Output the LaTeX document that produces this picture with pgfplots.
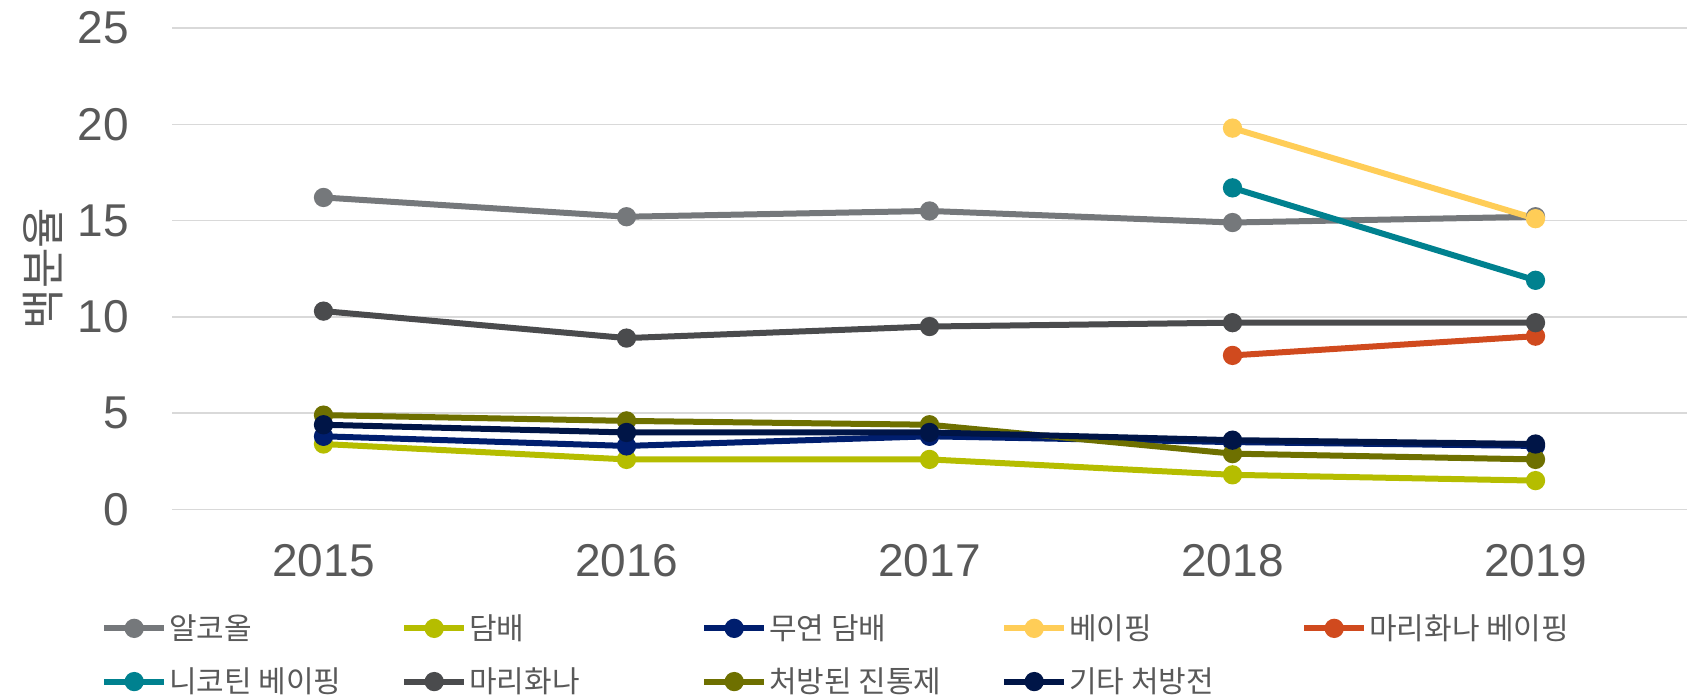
\documentclass[border=0pt]{standalone}
\usepackage{fontspec}
\setmainfont{Liberation Sans}
\newfontfamily\kr{Noto Sans CJK KR}
\usepackage{pgfplots}
\pgfplotsset{compat=1.18}
\definecolor{txt}{HTML}{595959}
\definecolor{gridc}{HTML}{D9D9D9}
\definecolor{cAlc}{HTML}{75787B}
\definecolor{cTob}{HTML}{B5BD00}
\definecolor{cSmk}{HTML}{001E6E}
\definecolor{cVap}{HTML}{FFCD57}
\definecolor{cMjv}{HTML}{D04A1E}
\definecolor{cNic}{HTML}{00818F}
\definecolor{cMj}{HTML}{4A4B4D}
\definecolor{cPain}{HTML}{6E7000}
\definecolor{cRx}{HTML}{001547}
\begin{document}
\begin{tikzpicture}
\useasboundingbox (0,0) rectangle (844.5pt,349.5pt);
\begin{axis}[
  at={(86pt,94.75pt)}, anchor=south west,
  scale only axis, width=757.5pt, height=240.75pt,
  xmin=2014.5, xmax=2019.5, ymin=0, ymax=25,
  xtick={2015,2016,2017,2018,2019}, ytick={0,5,10,15,20,25},
  xticklabels={2015,2016,2017,2018,2019},
  ymajorgrids, grid style={color=gridc, line width=0.75pt},
  axis line style={draw=none}, tick style={draw=none},
  ticklabel style={font=\fontsize{23}{27}\selectfont, text=txt},
  /pgf/number format/assume math mode=true,
  yticklabel style={anchor=east, inner sep=0pt, xshift=-21.5pt},
  xticklabel style={anchor=north, inner sep=0pt, yshift=-17pt},
  ylabel={백분율},
  ylabel style={at={(axis description cs:-0.0848,0.5)}, anchor=center, font=\kr\fontsize{22}{26}\selectfont, text=txt},
  every axis plot/.append style={line width=3pt, mark=*, mark size=3.3pt},
  legend columns=5,
  legend style={at={(axis description cs:-0.047,-0.213)}, anchor=north west, draw=none, fill=none, inner sep=0pt, row sep=10.7pt, column sep=0pt, nodes={inner sep=1pt, text=txt, font=\kr\fontsize{15}{18}\selectfont}},
  legend image code/.code={\draw[mark repeat=2, mark phase=2, #1] plot coordinates {(0pt,0pt)(15pt,0pt)(30pt,0pt)};},
]
\addplot[color=cAlc] coordinates {(2015,16.2)(2016,15.2)(2017,15.5)(2018,14.9)(2019,15.2)};
\addlegendentry{\makebox[115pt][l]{알코올}}
\addplot[color=cTob] coordinates {(2015,3.4)(2016,2.6)(2017,2.6)(2018,1.8)(2019,1.5)};
\addlegendentry{\makebox[115pt][l]{담배}}
\addplot[color=cSmk] coordinates {(2015,3.8)(2016,3.3)(2017,3.8)(2018,3.5)(2019,3.3)};
\addlegendentry{\makebox[115pt][l]{무연 담배}}
\addplot[color=cVap] coordinates {(2018,19.8)(2019,15.1)};
\addlegendentry{\makebox[115pt][l]{베이핑}}
\addplot[color=cMjv] coordinates {(2018,8.0)(2019,9.0)};
\addlegendentry{\makebox[115pt][l]{마리화나 베이핑}}
\addplot[color=cNic] coordinates {(2018,16.7)(2019,11.9)};
\addlegendentry{\makebox[115pt][l]{니코틴 베이핑}}
\addplot[color=cMj] coordinates {(2015,10.3)(2016,8.9)(2017,9.5)(2018,9.7)(2019,9.7)};
\addlegendentry{\makebox[115pt][l]{마리화나}}
\addplot[color=cPain] coordinates {(2015,4.9)(2016,4.6)(2017,4.4)(2018,2.9)(2019,2.6)};
\addlegendentry{\makebox[115pt][l]{처방된 진통제}}
\addplot[color=cRx] coordinates {(2015,4.4)(2016,4.0)(2017,4.0)(2018,3.6)(2019,3.4)};
\addlegendentry{\makebox[115pt][l]{기타 처방전}}
\end{axis}
\end{tikzpicture}
\end{document}
